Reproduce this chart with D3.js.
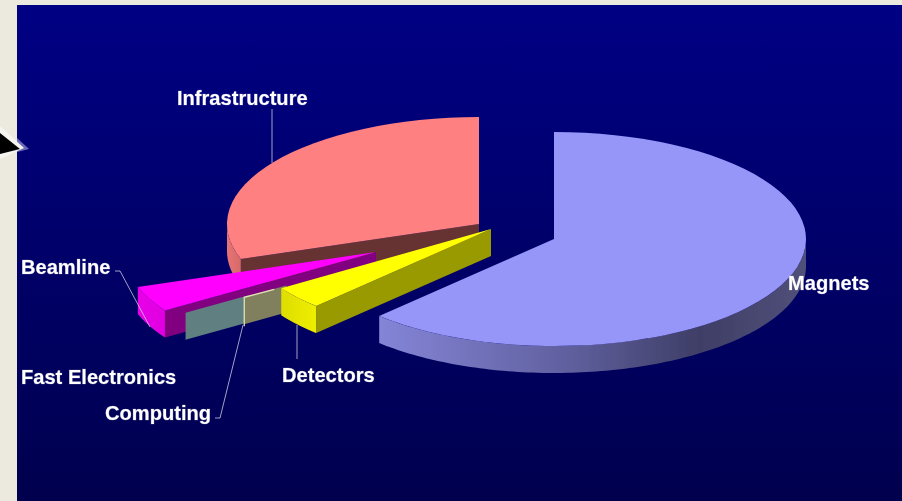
<!DOCTYPE html>
<html><head><meta charset="utf-8">
<script src="https://cdn.jsdelivr.net/npm/d3@7/dist/d3.min.js"></script>
<style>html,body{margin:0;padding:0;background:#ece9df;overflow:hidden}svg{display:block}
text{font-family:"Liberation Sans",Arial,sans-serif;font-weight:bold;font-size:20.1px;fill:#fff;stroke:#fff;stroke-opacity:.3;stroke-width:.7px}</style>
</head><body><svg id="c" width="902" height="501"></svg>
<script>
// Data
const categories = ["Magnets","Detectors","Computing","Fast Electronics","Beamline","Infrastructure"];
const values = [62.2,3.45,0.08,0.07,3.9,30.3];
// Layout
const W=902,H=501,RX=252,RY=107,DEPTH=27;
const centers = {Magnets:[554,239],Detectors:[491,229],Computing:[454,238],"Fast Electronics":[396,254],Beamline:[376,252],Infrastructure:[479,224]};
const topCol = {Magnets:"#9696f9",Detectors:"#ffff00",Beamline:"#ff00ff",Infrastructure:"#ff8080"};
const faceCol= {Detectors:"#999900",Computing:"#80805f","Fast Electronics":"#5f7f80",Beamline:"#800080",Infrastructure:"#663333"};
const faceReach = {Computing:0.2,"Fast Electronics":0.3};
const labels = [
 {t:"Infrastructure",x:177,y:105},{t:"Magnets",x:788,y:290},{t:"Beamline",x:21,y:274},
 {t:"Fast Electronics",x:21,y:384},{t:"Computing",x:105,y:420},{t:"Detectors",x:282,y:382}];
const leaders = [
 {p:[[272,109],[272,163]]},
 {p:[[115,271],[120,271],[150,327]]},
 {p:[[297,325],[297,359]]},
 {p:[[243,325],[220,418],[215,418]]}];
const drawOrder = ["Infrastructure","Beamline","Fast Electronics","Computing","Detectors","Magnets"];

const svg=d3.select("#c");
const defs=svg.append("defs");
function grad(id,x1,x2,stops,y1,y2){
  const g=defs.append("linearGradient").attr("id",id).attr("gradientUnits","userSpaceOnUse")
    .attr("x1",x1).attr("x2",x2).attr("y1",y1||0).attr("y2",y2||0);
  stops.forEach(s=>g.append("stop").attr("offset",s[0]).attr("stop-color",s[1]));
}
grad("bg",0,0,[[0,"#000084"],[1,"#00004e"]],5,501);
grad("magSide",378,807,[[0,"#8585d8"],[0.45,"#5f5f9e"],[0.75,"#3e3e66"],[1,"#50507a"]]);
grad("infSide",227,245,[[0,"#e87474"],[1,"#d06666"]]);
grad("detSide",282,316,[[0,"#dede00"],[1,"#eeee00"]]);
grad("beaSide",138,165,[[0,"#e800e8"],[1,"#e000e0"]]);
const sideFill={Magnets:"url(#magSide)",Infrastructure:"url(#infSide)",Detectors:"url(#detSide)",Beamline:"url(#beaSide)"};
defs.append("filter").attr("id","soft").append("feGaussianBlur").attr("stdDeviation",0.45);
defs.append("filter").attr("id","glow").attr("x","-10%").attr("y","-30%").attr("width","120%").attr("height","160%")
  .append("feGaussianBlur").attr("stdDeviation",0.45);

// Background panel
svg.append("rect").attr("x",17).attr("y",5).attr("width",W-17).attr("height",H-5).attr("fill","url(#bg)");

// Pointer arrow
const line=d3.line();
svg.append("path").attr("d",line([[17,138],[29,149],[17,152]])+"Z").attr("fill","#6a6ab8").attr("filter","url(#soft)");
svg.append("path").attr("d",line([[0,126],[24,148],[0,159]])+"Z").attr("fill","#f6f4ee").attr("filter","url(#soft)");
svg.append("path").attr("d",line([[0,133],[20,149],[0,154]])+"Z").attr("fill","#000").attr("filter","url(#soft)");

// Pie
const slices=d3.pie().sort(null).value(d=>d.v)(categories.map((c,i)=>({c,v:values[i]})));
const byName=new Map(slices.map(s=>[s.data.c,s]));
const arc=d3.arc().innerRadius(0).outerRadius(RX);
const xS=d3.scaleLinear().domain([-1,1]).range([-RX,RX]);
const yS=d3.scaleLinear().domain([-1,1]).range([-RY,RY]);
const pt=(c,a,dy=0)=>[c[0]+xS(Math.sin(a)),c[1]+yS(-Math.cos(a))+dy];
const pie=svg.append("g").attr("filter","url(#soft)");

drawOrder.forEach(name=>{
  const s=byName.get(name),c=centers[name];
  const g=pie.append("g");
  const o=pt(c,s.startAngle);
  // radial face at the slice's start angle
  if(name!=="Magnets"){
    const f=faceReach[name]||1;
    const inner=[o[0]+(c[0]-o[0])*f,o[1]+(c[1]-o[1])*f];
    g.append("path").attr("d",line([inner,o,[o[0],o[1]+DEPTH],[inner[0],inner[1]+DEPTH]])+"Z").attr("fill",faceCol[name]);
  }
  if(name==="Computing"){
    // the sliver itself shows only as pale edges
    g.append("path").attr("d",line([[o[0]+30,o[1]-8],o,[o[0],o[1]+DEPTH+2]])).attr("fill","none").attr("stroke","#e2e2b4").attr("stroke-width",1.3);
    return;
  }
  if(name==="Fast Electronics") return;
  // outer rim, front half only
  const a0=Math.max(s.startAngle,Math.PI/2),a1=Math.min(s.endAngle,3*Math.PI/2);
  if(a1>a0){
    const as=d3.range(0,121).map(i=>a0+(a1-a0)*i/120);
    const pts=as.map(a=>pt(c,a)).concat(as.slice().reverse().map(a=>pt(c,a,DEPTH)));
    g.append("path").attr("d",line(pts)+"Z").attr("fill",sideFill[name]);
  }
  // top surface
  g.append("path").attr("transform",`translate(${c[0]},${c[1]}) scale(1,${RY/RX})`)
    .attr("d",arc(s)).attr("fill",topCol[name]);
});

// Leader lines
svg.append("g").selectAll("path").data(leaders).join("path")
  .attr("d",d=>line(d.p)).attr("fill","none").attr("stroke","#c8c8e0").attr("stroke-width",1).attr("opacity",.8);

// Labels
svg.append("g").attr("filter","url(#glow)").selectAll("text").data(labels).join("text")
  .attr("x",d=>d.x).attr("y",d=>d.y).text(d=>d.t);
</script></body></html>
